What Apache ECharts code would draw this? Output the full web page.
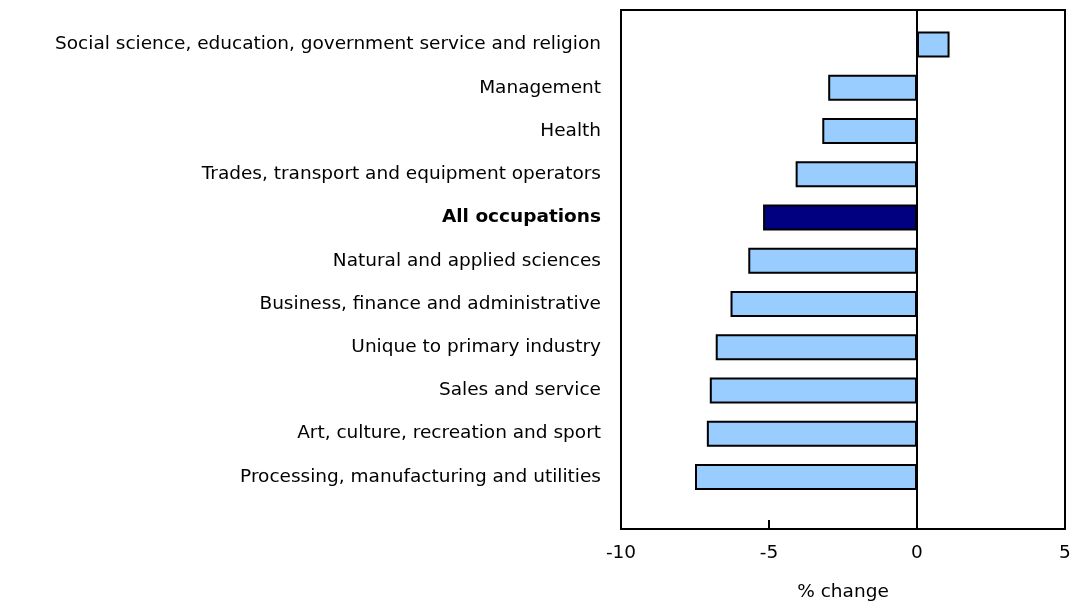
<!DOCTYPE html>
<html>
<head>
<meta charset="utf-8">
<script src="https://cdn.jsdelivr.net/npm/echarts@6/dist/echarts.min.js"></script>
<style>html,body{margin:0;padding:0;background:#fff}#c{width:1071px;height:603px}</style>
</head>
<body>
<div id="c"></div>
<script>
const categories = [
  'Social science, education, government service and religion',
  'Management',
  'Health',
  'Trades, transport and equipment operators',
  'All occupations',
  'Natural and applied sciences',
  'Business, finance and administrative',
  'Unique to primary industry',
  'Sales and service',
  'Art, culture, recreation and sport',
  'Processing, manufacturing and utilities'
];
const values = [1.1, -3.0, -3.2, -4.1, -5.2, -5.7, -6.3, -6.8, -7.0, -7.1, -7.5];
const highlighted = ['All occupations'];
const xTicks = [-10, -5, 0, 5];

const FONT = 'DejaVu Sans';
const FS = 18.5;
const chart = echarts.init(document.getElementById('c'));
const data = values.map((v, i) => ({
  value: v,
  itemStyle: { color: highlighted.includes(categories[i]) ? '#000080' : '#99CCFF' }
}));

chart.setOption({
  animation: false,
  grid: [
    { left: 621, right: 6, top: 10, bottom: 74, containLabel: false, outerBoundsMode: 'none', show: true, borderColor: '#000', borderWidth: 2, backgroundColor: 'transparent' },
    { left: 621, right: 6, top: 23, bottom: 104.5, containLabel: false, outerBoundsMode: 'none' }
  ],
  xAxis: [
    {
      gridIndex: 0, type: 'value', min: xTicks[0], max: xTicks[xTicks.length - 1], interval: 5,
      axisLine: { show: false },
      axisTick: { show: true, inside: true, length: 9, lineStyle: { color: '#000', width: 2 } },
      splitLine: { show: false },
      axisLabel: { fontFamily: FONT, fontSize: FS, color: '#000', margin: 15 },
      name: '% change', nameLocation: 'middle', nameGap: 54,
      nameTextStyle: { fontFamily: FONT, fontSize: FS, color: '#000' }
    },
    {
      gridIndex: 1, type: 'value', min: xTicks[0], max: xTicks[xTicks.length - 1], show: false
    }
  ],
  yAxis: [
    {
      gridIndex: 0, type: 'value', min: 0, max: 1,
      axisLine: { show: true, onZero: true, lineStyle: { color: '#000', width: 2 } },
      axisTick: { show: false }, axisLabel: { show: false }, splitLine: { show: false }
    },
    {
      gridIndex: 1, type: 'category', data: categories, inverse: true,
      axisLine: { show: false }, axisTick: { show: false }, splitLine: { show: false },
      axisLabel: {
        margin: 20, fontFamily: FONT, fontSize: FS, color: '#000',
        formatter: v => highlighted.includes(v) ? '{b|' + v + '}' : v,
        rich: { b: { fontFamily: FONT, fontSize: FS, fontWeight: 'bold', color: '#000' } }
      }
    }
  ],
  series: [
    {
      type: 'bar', xAxisIndex: 1, yAxisIndex: 1, data: data,
      barWidth: 26,
      itemStyle: { borderColor: '#000', borderWidth: 2 }
    }
  ]
});
</script>
</body>
</html>
